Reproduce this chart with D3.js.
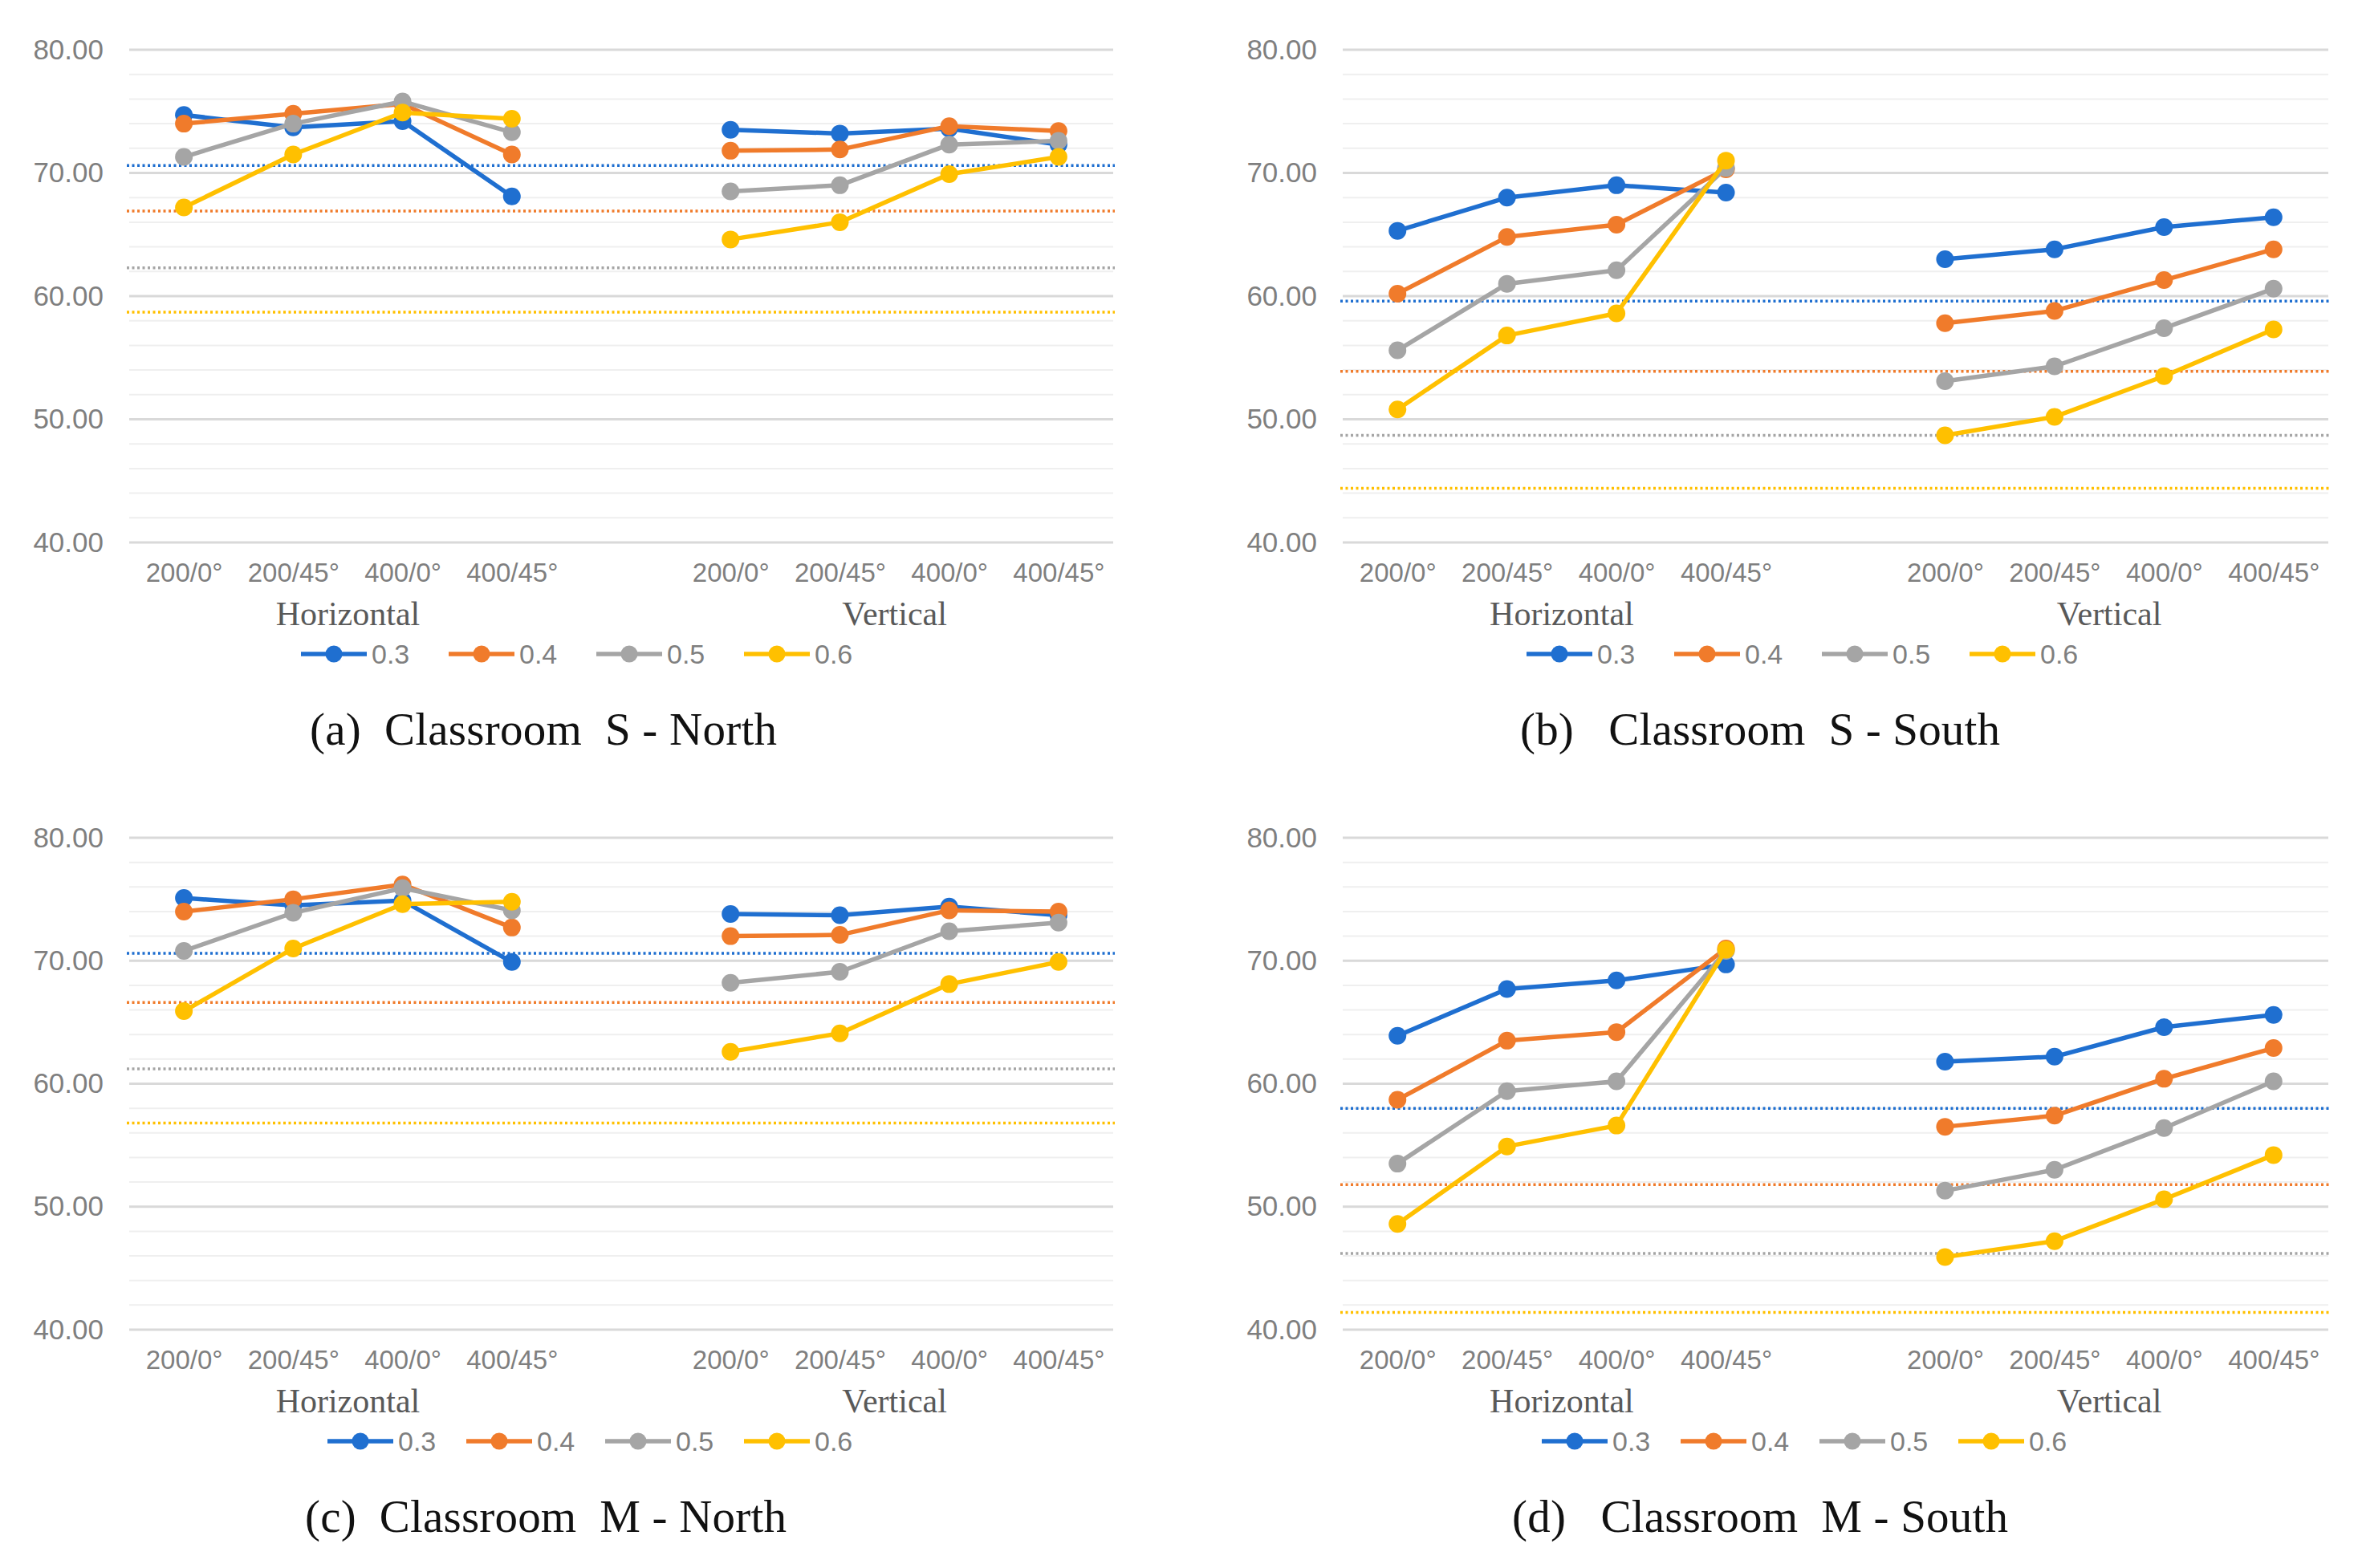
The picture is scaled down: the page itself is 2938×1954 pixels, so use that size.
<!DOCTYPE html>
<html>
<head>
<meta charset="utf-8">
<script src="https://cdn.jsdelivr.net/npm/d3@7"></script>
<style>
  body { margin: 0; background: #fff; }
  svg { display: block; }
</style>
</head>
<body>
<svg id="chart" width="2938" height="1954"></svg>
<script>
// categories on the x axis (two groups of four, with an empty slot between)
const orientations = ["Horizontal", "Vertical"];
const configs = ["200/0°", "200/45°", "400/0°", "400/45°"];
const seriesNames = ["0.3", "0.4", "0.5", "0.6"];
const yTicks = [40, 50, 60, 70, 80];
const captions = [
    "(a)  Classroom  S - North",
    "(b)   Classroom  S - South",
    "(c)  Classroom  M - North",
    "(d)   Classroom  M - South"
];

// values per series: Horizontal x4 then Vertical x4
const sNorth = [
    [74.7, 73.7, 74.2, 68.1, 73.5, 73.2, 73.6, 72.3],
    [74.0, 74.8, 75.6, 71.5, 71.8, 71.9, 73.8, 73.4],
    [71.3, 74.0, 75.8, 73.3, 68.5, 69.0, 72.3, 72.6],
    [67.2, 71.5, 74.9, 74.4, 64.6, 66.0, 69.9, 71.3]
];
const sNorthRef = [70.6, 66.9, 62.3, 58.7];

const sSouth = [
    [65.3, 68.0, 69.0, 68.4, 63.0, 63.8, 65.6, 66.4],
    [60.2, 64.8, 65.8, 70.3, 57.8, 58.8, 61.3, 63.8],
    [55.6, 61.0, 62.1, 70.4, 53.1, 54.3, 57.4, 60.6],
    [50.8, 56.8, 58.6, 71.0, 48.7, 50.2, 53.5, 57.3]
];
const sSouthRef = [59.6, 53.9, 48.7, 44.4];

const mNorth = [
    [75.1, 74.5, 74.9, 69.9, 73.8, 73.7, 74.4, 73.7],
    [74.0, 75.0, 76.2, 72.7, 72.0, 72.1, 74.1, 74.0],
    [70.8, 73.9, 75.9, 74.1, 68.2, 69.1, 72.4, 73.1],
    [65.9, 71.0, 74.6, 74.8, 62.6, 64.1, 68.1, 69.9]
];
const mNorthRef = [70.6, 66.6, 61.2, 56.8];

const mSouth = [
    [63.9, 67.7, 68.4, 69.7, 61.8, 62.2, 64.6, 65.6],
    [58.7, 63.5, 64.2, 71.0, 56.5, 57.4, 60.4, 62.9],
    [53.5, 59.4, 60.2, 70.8, 51.3, 53.0, 56.4, 60.2],
    [48.6, 54.9, 56.6, 70.9, 45.9, 47.2, 50.6, 54.2]
];
const mSouthRef = [58.0, 51.8, 46.2, 41.4];

const colors = ["#1f6fd0", "#f07b2b", "#a5a5a5", "#ffc000"];

// where each panel sits on the page
const layout = [
    {x0: 161, x1: 1387, yTop: 62, yBot: 676, legX: 375, legStep: 184, capX: 677, capW: 582},
    {x0: 1673, x1: 2901, yTop: 62, yBot: 676, legX: 1902, legStep: 184, capX: 2193, capW: 598},
    {x0: 161, x1: 1387, yTop: 1044, yBot: 1657, legX: 408, legStep: 173, capX: 680, capW: 600},
    {x0: 1673, x1: 2901, yTop: 1044, yBot: 1657, legX: 1921, legStep: 173, capX: 2193, capW: 618}
];

const panelData = [
    {values: sNorth, ref: sNorthRef},
    {values: sSouth, ref: sSouthRef},
    {values: mNorth, ref: mNorthRef},
    {values: mSouth, ref: mSouthRef}
];

const sansFont = "'Liberation Sans', Arial, sans-serif";
const serifFont = "'Liberation Serif', 'Times New Roman', serif";

const svg = d3.select("#chart");

// slot index -> label (slot 4 is the gap between the groups)
function slotLabel(i) {
    if (i === 4) return "";
    return configs[i < 4 ? i : i - 5];
}

function drawPanel(p, data, caption) {

    const g = svg.append("g");

    const xScale = d3.scalePoint()
        .domain(d3.range(9))
        .range([p.x0, p.x1])
        .padding(0.5);

    const yScale = d3.scaleLinear()
        .domain([40, 80])
        .range([p.yBot, p.yTop]);

    // minor gridlines every 2
    const minor = d3.range(42, 80, 2).filter(function(v) { return v % 10 !== 0; });
    g.selectAll(".minor")
        .data(minor)
        .enter()
        .append("line")
            .attr("x1", p.x0)
            .attr("x2", p.x1)
            .attr("y1", function(d) { return yScale(d); })
            .attr("y2", function(d) { return yScale(d); })
            .attr("stroke", "#efefef")
            .attr("stroke-width", 2);

    g.selectAll(".major")
        .data(yTicks)
        .enter()
        .append("line")
            .attr("x1", p.x0)
            .attr("x2", p.x1)
            .attr("y1", function(d) { return yScale(d); })
            .attr("y2", function(d) { return yScale(d); })
            .attr("stroke", "#d9d9d9")
            .attr("stroke-width", 3);

    // y axis labels
    const yAxis = g.append("g")
        .attr("transform", `translate(${p.x0},0)`)
        .call(d3.axisLeft(yScale).tickValues(yTicks).tickSize(0).tickPadding(32).tickFormat(d3.format(".2f")));
    yAxis.select(".domain").remove();
    yAxis.selectAll("text")
        .attr("fill", "#7f7f7f")
        .style("font-family", sansFont)
        .style("font-size", "35px");

    // x axis labels
    const xAxis = g.append("g")
        .attr("transform", `translate(0,${p.yBot})`)
        .call(d3.axisBottom(xScale).tickValues([0, 1, 2, 3, 5, 6, 7, 8]).tickSize(0).tickFormat(slotLabel));
    xAxis.select(".domain").remove();
    xAxis.selectAll("text")
        .attr("y", 37)
        .attr("dy", "0.35em")
        .attr("fill", "#7f7f7f")
        .style("font-family", sansFont)
        .style("font-size", "33px");

    // group labels
    g.selectAll(".group")
        .data(orientations)
        .enter()
        .append("text")
            .attr("x", function(d, i) { return (xScale(i * 5) + xScale(i * 5 + 3)) / 2; })
            .attr("y", p.yBot + 88)
            .attr("dy", "0.35em")
            .attr("text-anchor", "middle")
            .attr("fill", "#595959")
            .style("font-family", serifFont)
            .style("font-size", "42px")
            .text(function(d) { return d; });

    // dotted reference lines
    g.selectAll(".ref")
        .data(data.ref)
        .enter()
        .append("line")
            .attr("x1", p.x0 - 3)
            .attr("x2", p.x1 + 2)
            .attr("y1", function(d) { return yScale(d); })
            .attr("y2", function(d) { return yScale(d); })
            .attr("stroke", function(d, i) { return colors[i]; })
            .attr("stroke-width", 3.5)
            .attr("stroke-dasharray", "3 3.5");

    const line = d3.line()
        .x(function(d) { return xScale(d.slot); })
        .y(function(d) { return yScale(d.v); });

    data.values.forEach(function(vals, si) {
        const pts = vals.map(function(v, k) {
            return {slot: k < 4 ? k : k + 1, v: v};
        });
        [pts.slice(0, 4), pts.slice(4)].forEach(function(seg) {
            g.append("path")
                .datum(seg)
                .attr("d", line)
                .attr("fill", "none")
                .attr("stroke", colors[si])
                .attr("stroke-width", 5.5)
                .attr("stroke-linejoin", "round");
        });
        g.selectAll(".m" + si)
            .data(pts)
            .enter()
            .append("circle")
                .attr("cx", function(d) { return xScale(d.slot); })
                .attr("cy", function(d) { return yScale(d.v); })
                .attr("r", 11)
                .attr("fill", colors[si]);
    });

    // legend
    const leg = g.selectAll(".leg")
        .data(seriesNames)
        .enter()
        .append("g")
            .attr("transform", function(d, i) { return `translate(${p.legX + i * p.legStep},${p.yBot + 139})`; });
    leg.append("line")
        .attr("x1", 0)
        .attr("x2", 82)
        .attr("stroke", function(d, i) { return colors[i]; })
        .attr("stroke-width", 5.5);
    leg.append("circle")
        .attr("cx", 41)
        .attr("r", 10.5)
        .attr("fill", function(d, i) { return colors[i]; });
    leg.append("text")
        .attr("x", 88)
        .attr("dy", "0.35em")
        .attr("fill", "#7f7f7f")
        .style("font-family", sansFont)
        .style("font-size", "34px")
        .text(function(d) { return d; });

    // caption
    g.append("text")
        .attr("x", p.capX)
        .attr("y", p.yBot + 232)
        .attr("dy", "0.35em")
        .attr("text-anchor", "middle")
        .attr("textLength", p.capW)
        .attr("lengthAdjust", "spacing")
        .attr("fill", "#111")
        .attr("xml:space", "preserve")
        .style("white-space", "pre")
        .style("font-family", serifFont)
        .style("font-size", "57px")
        .text(caption);
}

layout.forEach(function(p, i) {
    drawPanel(p, panelData[i], captions[i]);
});
</script>
</body>
</html>
